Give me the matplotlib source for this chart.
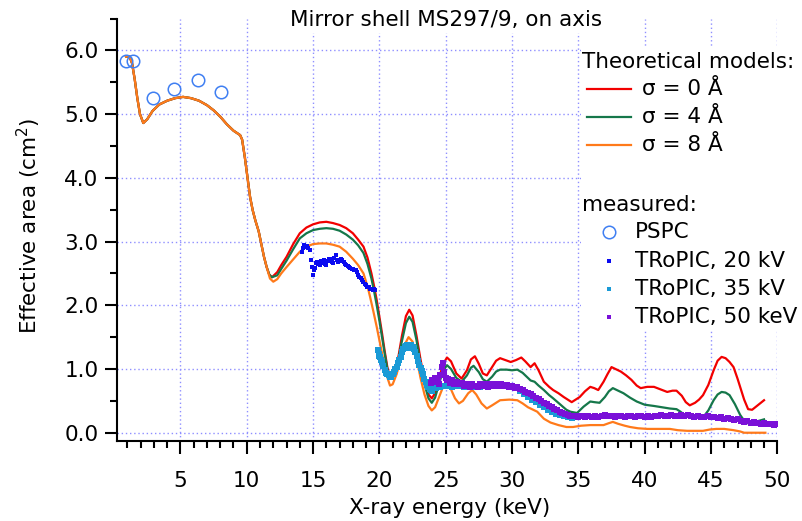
import numpy as np
import matplotlib
matplotlib.use("Agg")
import matplotlib.pyplot as plt
from matplotlib.lines import Line2D
from matplotlib.patches import Rectangle
from matplotlib.ticker import MultipleLocator, FormatStrFormatter

plt.rcParams["font.family"] = ["DejaVu Sans"]

# ---------------------------------------------------------------- data
# Theoretical effective area, common part below ~11.5 keV (all roughness values)
low_energy = [0.9, 1.15, 1.35, 1.55, 1.75, 1.95, 2.2, 2.5, 2.9, 3.4, 4.0, 4.6,
              5.2, 5.8, 6.4, 7.0, 7.5, 8.0, 8.5, 9.0, 9.5, 9.65, 9.85, 10.05,
              10.25, 10.45, 10.65, 10.9, 11.1, 11.3, 11.5]
low_area = [5.90, 5.91, 5.80, 5.55, 5.25, 5.00, 4.86, 4.92, 5.05, 5.15, 5.21,
            5.25, 5.27, 5.25, 5.21, 5.14, 5.06, 4.96, 4.84, 4.74, 4.67, 4.60,
            4.33, 4.01, 3.70, 3.49, 3.33, 3.16, 2.96, 2.76, 2.60]

# sigma = 0 A
s0_energy = [11.7, 11.9, 12.3, 12.6, 13.0, 13.5, 14.0, 14.5, 15.0, 15.5, 16.0,
             16.5, 17.0, 17.5, 18.0, 18.4, 18.8, 19.1, 19.4, 19.6, 19.8, 20.0,
             20.2, 20.4, 20.6, 20.75, 20.9, 21.1, 21.4, 21.7, 22.0, 22.25, 22.5,
             22.8, 23.1, 23.4, 23.7, 23.95, 24.2, 24.5, 24.8, 25.1, 25.4, 25.8,
             26.2, 26.6, 26.9, 27.2, 27.5, 27.8, 28.1, 28.5, 28.8, 29.1, 29.5,
             29.9, 30.3, 30.7, 31.0, 31.4, 31.7, 32.0, 32.4, 32.8, 33.1, 33.5,
             33.9, 34.2, 34.5, 34.8, 35.1, 35.5, 35.9, 36.2, 36.5, 36.9, 37.2,
             37.5, 37.8, 38.2, 38.6, 39.0, 39.4, 39.7, 40.2, 40.7, 41.2, 41.7,
             42.1, 42.4, 42.8, 43.1, 43.4, 43.8, 44.1, 44.4, 44.8, 45.2, 45.5,
             45.8, 46.1, 46.4, 46.7, 47.0, 47.2, 47.5, 47.8, 48.1, 48.4, 48.7,
             49.0]
s0_area = [2.48, 2.44, 2.52, 2.63, 2.76, 2.96, 3.13, 3.22, 3.27, 3.30, 3.31,
           3.29, 3.26, 3.21, 3.13, 3.03, 2.92, 2.75, 2.50, 2.30, 2.08, 1.82,
           1.56, 1.28, 1.03, 0.90, 0.86, 0.92, 1.15, 1.52, 1.83, 1.93, 1.84,
           1.52, 1.15, 0.82, 0.60, 0.54, 0.62, 0.85, 1.08, 1.18, 1.12, 0.93,
           0.85, 0.98, 1.15, 1.20, 1.08, 0.93, 0.90, 1.03, 1.13, 1.17, 1.14,
           1.11, 1.14, 1.18, 1.12, 1.03, 1.09, 0.98, 0.80, 0.72, 0.67, 0.62,
           0.56, 0.52, 0.48, 0.52, 0.56, 0.65, 0.72, 0.70, 0.67, 0.80, 0.92,
           1.03, 1.00, 0.96, 0.90, 0.83, 0.74, 0.70, 0.72, 0.72, 0.68, 0.64,
           0.66, 0.66, 0.58, 0.48, 0.43, 0.47, 0.52, 0.59, 0.75, 0.98, 1.13,
           1.19, 1.17, 1.11, 1.03, 0.85, 0.72, 0.52, 0.37, 0.36, 0.41, 0.46,
           0.51]

# sigma = 4 A
s4_energy = [11.7, 11.9, 12.3, 12.6, 13.0, 13.5, 14.0, 14.5, 15.0, 15.5, 16.0,
             16.5, 17.0, 17.5, 18.0, 18.4, 18.8, 19.1, 19.4, 19.6, 19.8, 20.0,
             20.2, 20.4, 20.6, 20.75, 20.9, 21.1, 21.4, 21.7, 22.0, 22.25, 22.5,
             22.8, 23.1, 23.4, 23.7, 23.95, 24.2, 24.5, 24.8, 25.1, 25.4, 25.8,
             26.2, 26.6, 26.9, 27.1, 27.5, 27.8, 28.1, 28.5, 28.8, 29.1, 29.6,
             30.0, 30.4, 30.8, 31.1, 31.4, 31.7, 32.0, 32.4, 32.8, 33.1, 33.6,
             34.1, 34.4, 34.9, 35.4, 35.9, 36.2, 36.6, 37.0, 37.3, 37.6, 38.0,
             38.4, 38.9, 39.4, 40.0, 40.7, 41.3, 41.9, 42.4, 42.7, 43.0, 43.6,
             44.0, 44.4, 44.8, 45.2, 45.5, 45.8, 46.1, 46.4, 46.8, 47.2, 47.5,
             47.7, 48.0, 48.5, 49.0]
s4_area = [2.48, 2.44, 2.47, 2.57, 2.70, 2.88, 3.05, 3.13, 3.18, 3.20, 3.21,
           3.20, 3.17, 3.11, 3.03, 2.94, 2.82, 2.65, 2.42, 2.22, 2.00, 1.76,
           1.50, 1.24, 1.00, 0.90, 0.87, 0.92, 1.12, 1.44, 1.72, 1.82, 1.74,
           1.45, 1.08, 0.76, 0.54, 0.47, 0.55, 0.77, 0.97, 1.06, 1.00, 0.86,
           0.80, 0.90, 1.02, 1.05, 0.95, 0.84, 0.80, 0.88, 0.96, 0.99, 0.99,
           0.98, 0.99, 0.94, 0.88, 0.82, 0.80, 0.74, 0.67, 0.59, 0.54, 0.45,
           0.36, 0.33, 0.31, 0.41, 0.49, 0.48, 0.47, 0.56, 0.65, 0.70, 0.66,
           0.62, 0.55, 0.49, 0.44, 0.42, 0.40, 0.38, 0.37, 0.33, 0.28, 0.25,
           0.24, 0.24, 0.35, 0.51, 0.60, 0.64, 0.63, 0.59, 0.45, 0.28, 0.19,
           0.15, 0.15, 0.18, 0.21]

# sigma = 8 A
s8_energy = [11.75, 12.0, 12.3, 12.6, 13.0, 13.5, 14.0, 14.5, 15.0, 15.5, 16.0,
             16.5, 17.0, 17.5, 18.0, 18.4, 18.8, 19.1, 19.3, 19.55, 19.8, 20.05,
             20.3, 20.55, 20.8, 21.0, 21.3, 21.6, 21.9, 22.2, 22.5, 22.8, 23.1,
             23.4, 23.7, 23.95, 24.2, 24.5, 24.8, 25.1, 25.4, 25.7, 26.0, 26.3,
             26.7, 27.0, 27.3, 27.7, 28.1, 28.5, 29.1, 29.8, 30.4, 30.8, 31.2,
             31.6, 31.9, 32.4, 32.9, 33.5, 34.1, 34.6, 35.2, 35.9, 36.9, 37.3,
             37.6, 38.0, 38.5, 38.9, 39.5, 40.2, 41.0, 41.9, 42.5, 43.2, 44.4,
             44.9, 45.4, 46.0, 46.7, 47.2, 47.5, 48.3, 49.1]
s8_area = [2.42, 2.37, 2.41, 2.50, 2.60, 2.72, 2.84, 2.92, 2.96, 2.97, 2.97,
           2.95, 2.92, 2.84, 2.73, 2.63, 2.50, 2.30, 2.13, 1.90, 1.66, 1.40,
           1.14, 0.90, 0.74, 0.76, 0.92, 1.15, 1.38, 1.50, 1.43, 1.18, 0.86,
           0.60, 0.42, 0.35, 0.40, 0.56, 0.72, 0.77, 0.68, 0.54, 0.46, 0.50,
           0.62, 0.67, 0.60, 0.46, 0.38, 0.43, 0.51, 0.52, 0.51, 0.46, 0.40,
           0.36, 0.33, 0.22, 0.16, 0.12, 0.09, 0.09, 0.11, 0.12, 0.12, 0.15,
           0.17, 0.14, 0.11, 0.09, 0.07, 0.06, 0.06, 0.06, 0.04, 0.03, 0.03,
           0.05, 0.06, 0.06, 0.04, 0.02, 0.00, 0.00, 0.00]

# PSPC measurements
pspc_energy = [0.9, 1.45, 2.96, 4.52, 6.35, 8.04]
pspc_area = [5.83, 5.83, 5.25, 5.39, 5.53, 5.34]

# TRoPIC, 20 kV tube setting
t20_energy = [14.15, 14.25, 14.35, 14.45, 14.55, 14.65, 14.75, 14.85, 14.92,
              15.0, 15.08, 15.15, 15.22, 15.3, 15.4, 15.5, 15.6, 15.7, 15.8,
              15.9, 16.0, 16.1, 16.2, 16.3, 16.4, 16.5, 16.6, 16.7, 16.8, 16.9,
              17.0, 17.1, 17.2, 17.3, 17.4, 17.5, 17.6, 17.7, 17.8, 17.9, 18.0,
              18.1, 18.2, 18.3, 18.4, 18.5, 18.6, 18.7, 18.8, 18.9, 19.0, 19.1,
              19.2, 19.3, 19.4, 19.5, 19.6, 19.7]
t20_area = [2.84, 2.90, 2.94, 2.92, 2.93, 2.90, 2.86, 2.71, 2.60, 2.47, 2.55,
            2.58, 2.66, 2.68, 2.64, 2.63, 2.70, 2.66, 2.71, 2.65, 2.63, 2.69,
            2.72, 2.73, 2.68, 2.66, 2.74, 2.79, 2.71, 2.68, 2.70, 2.72, 2.71,
            2.68, 2.65, 2.63, 2.61, 2.60, 2.58, 2.57, 2.57, 2.55, 2.55, 2.52,
            2.47, 2.45, 2.43, 2.40, 2.37, 2.34, 2.32, 2.29, 2.28, 2.26, 2.25,
            2.24, 2.25, 2.24]

# TRoPIC, 35 kV tube setting
t35_energy = [19.9, 19.95, 20.0, 20.05, 20.1, 20.2, 20.3, 20.4, 20.5, 20.6,
              20.7, 20.8, 20.9, 21.0, 21.1, 21.2, 21.3, 21.4, 21.5, 21.6, 21.7,
              21.8, 21.9, 22.0, 22.1, 22.2, 22.3, 22.4, 22.5, 22.6, 22.7, 22.8,
              22.9, 23.0, 23.1, 23.2, 23.3, 23.4, 23.5, 23.6, 23.7, 23.8, 23.9,
              24.0, 24.3, 24.6, 24.9, 25.2, 25.5, 25.8, 26.1, 26.4, 26.7, 27.0,
              27.3, 27.6, 27.9, 28.2, 28.5, 28.8, 29.1, 29.4, 29.7, 30.0, 30.3,
              30.6, 30.9, 31.2, 31.5, 31.8, 32.1, 32.4, 32.7, 33.0, 33.3, 33.6,
              33.9, 34.2, 34.5]
t35_area = [1.30, 1.24, 1.20, 1.19, 1.14, 1.11, 1.04, 0.98, 0.94, 0.92, 0.90,
            0.87, 0.88, 0.92, 0.96, 1.00, 1.03, 1.09, 1.14, 1.19, 1.26, 1.32,
            1.34, 1.36, 1.37, 1.33, 1.36, 1.38, 1.35, 1.31, 1.27, 1.20, 1.13,
            1.07, 1.02, 0.97, 0.92, 0.85, 0.80, 0.75, 0.71, 0.68, 0.67, 0.66,
            0.70, 0.72, 0.74, 0.73, 0.72, 0.73, 0.74, 0.72, 0.73, 0.74, 0.72,
            0.71, 0.73, 0.74, 0.75, 0.74, 0.75, 0.75, 0.74, 0.74, 0.71, 0.66,
            0.61, 0.56, 0.52, 0.48, 0.44, 0.40, 0.36, 0.33, 0.30, 0.28, 0.27,
            0.25, 0.23]

# TRoPIC, 50 keV tube setting
t50_energy = [23.9, 24.0, 24.1, 24.2, 24.3, 24.4, 24.5, 24.6, 24.7, 24.8, 24.9,
              25.0, 25.1, 25.2, 25.35, 25.5, 25.65, 25.8, 26.0, 26.2, 26.4,
              26.6, 26.8, 27.0, 27.2, 27.4, 27.6, 27.8, 28.0, 28.2, 28.4, 28.6,
              28.8, 29.0, 29.2, 29.4, 29.6, 29.8, 30.0, 30.2, 30.4, 30.6, 30.8,
              31.0, 31.2, 31.4, 31.6, 31.8, 32.0, 32.2, 32.4, 32.6, 32.8, 33.0,
              33.2, 33.4, 33.6, 33.8, 34.0, 34.2, 34.4, 34.6, 34.8, 35.0, 35.25,
              35.5, 35.75, 36.0, 36.25, 36.5, 36.75, 37.0, 37.25, 37.5, 37.75,
              38.0, 38.25, 38.5, 38.75, 39.0, 39.25, 39.5, 39.75, 40.0, 40.25,
              40.5, 40.75, 41.0, 41.25, 41.5, 41.75, 42.0, 42.25, 42.5, 42.75,
              43.0, 43.25, 43.5, 43.75, 44.0, 44.25, 44.5, 44.75, 45.0, 45.25,
              45.5, 45.75, 46.0, 46.25, 46.5, 46.75, 47.0, 47.25, 47.5, 47.75,
              48.0, 48.25, 48.5, 48.75, 49.0, 49.25, 49.5, 49.75, 50.0]
t50_area = [0.78, 0.83, 0.80, 0.86, 0.79, 0.84, 0.77, 0.90, 1.03, 1.10, 0.95,
            0.86, 0.82, 0.84, 0.78, 0.82, 0.76, 0.79, 0.76, 0.78, 0.74, 0.77,
            0.72, 0.76, 0.74, 0.72, 0.76, 0.73, 0.76, 0.72, 0.76, 0.74, 0.77,
            0.74, 0.76, 0.73, 0.75, 0.71, 0.73, 0.70, 0.71, 0.68, 0.67, 0.64,
            0.63, 0.60, 0.58, 0.55, 0.53, 0.50, 0.47, 0.45, 0.42, 0.40, 0.37,
            0.35, 0.33, 0.31, 0.30, 0.28, 0.27, 0.26, 0.27, 0.25, 0.26, 0.24,
            0.26, 0.24, 0.27, 0.25, 0.26, 0.28, 0.26, 0.27, 0.25, 0.27, 0.26,
            0.25, 0.27, 0.26, 0.25, 0.27, 0.26, 0.25, 0.26, 0.24, 0.27, 0.26,
            0.28, 0.26, 0.27, 0.28, 0.26, 0.27, 0.28, 0.26, 0.28, 0.26, 0.25,
            0.26, 0.24, 0.25, 0.26, 0.24, 0.25, 0.23, 0.24, 0.22, 0.23, 0.21,
            0.20, 0.21, 0.18, 0.17, 0.19, 0.15, 0.17, 0.15, 0.13, 0.16, 0.13,
            0.14, 0.12, 0.13]

x_ticks = [5, 10, 15, 20, 25, 30, 35, 40, 45, 50]
y_ticks = [0.0, 1.0, 2.0, 3.0, 4.0, 5.0, 6.0]

# ---------------------------------------------------------------- styles
C_RED = "#f20000"
C_GREEN = "#15774a"
C_ORANGE = "#ff7a1a"
C_PSPC = "#3f7ff2"
C_T20 = "#0a0af0"
C_T35 = "#1a9ad6"
C_T50 = "#7a10d8"
GRID = "#8f8fff"
FS = 15.5

W, H = 803, 521
fig = plt.figure(figsize=(W / 100, H / 100), dpi=100)


def fx(px):
    return px / W


def fy(py):
    return 1 - py / H


ax_left, ax_right, ax_top, ax_bottom = 117.3, 777.3, 18.5, 440.7
ax = fig.add_axes([fx(ax_left), fy(ax_bottom),
                   (ax_right - ax_left) / W, (ax_bottom - ax_top) / H])

# model curves
model_lw = 1.6
ax.plot(low_energy + s0_energy, low_area + s0_area, color=C_RED, lw=model_lw, zorder=2)
ax.plot(low_energy + s4_energy, low_area + s4_area, color=C_GREEN, lw=model_lw, zorder=3)
ax.plot(low_energy + s8_energy, low_area + s8_area, color=C_ORANGE, lw=model_lw, zorder=4)

# measurements
ax.plot(t20_energy, t20_area, ls="none", marker="s", ms=3.3, color=C_T20, mew=0, zorder=6)
ax.plot(t35_energy, t35_area, ls="none", marker="s", ms=3.8, color=C_T35, mew=0, zorder=6)
ax.plot(t50_energy, t50_area, ls="none", marker="s", ms=4.4, color=C_T50, mew=0, zorder=7)
ax.plot(pspc_energy, pspc_area, ls="none", marker="o", ms=9, mfc="none",
        mec=C_PSPC, mew=1.1, zorder=8)

# axes, ticks, grid
ax.set_xlim(0.24, 50)
ax.set_ylim(-0.125, 6.5)
ax.set_xticks(x_ticks)
ax.set_yticks(y_ticks)
ax.xaxis.set_minor_locator(MultipleLocator(1))
ax.yaxis.set_minor_locator(MultipleLocator(0.5))
ax.yaxis.set_major_formatter(FormatStrFormatter("%.1f"))
ax.tick_params(which="major", direction="out", length=9, width=1.5, labelsize=FS)
ax.tick_params(which="minor", direction="out", length=5, width=1.5)
ax.tick_params(axis="x", which="major", pad=13)
ax.tick_params(axis="y", which="major", pad=4.5)
for side in ("top", "right"):
    ax.spines[side].set_visible(False)
for side in ("left", "bottom"):
    ax.spines[side].set_linewidth(1.5)
ax.set_axisbelow(True)
ax.grid(True, which="major", color=GRID, linestyle=(0, (1, 2)), lw=1.0)

# axis titles
fig.text(fx(450), fy(508), "X-ray energy (keV)", ha="center", va="center", fontsize=FS)
fig.text(fx(29), fy(226), "Effective area (cm$^{2}$)", ha="center", va="center",
         rotation=90, fontsize=FS)
fig.text(fx(446), fy(20), "Mirror shell MS297/9, on axis", ha="center", va="center",
         fontsize=FS, bbox=dict(facecolor="white", edgecolor="none", pad=2.5))

# key
fig.add_artist(Rectangle((fx(581), fy(330)), (W - 581) / W, (330 - 46) / H,
                         transform=fig.transFigure, facecolor="white",
                         edgecolor="none", zorder=1))
fig.text(fx(582), fy(62), "Theoretical models:", ha="left", va="center", fontsize=FS)
for yy, col, lab in [(89, C_RED, "\u03c3 = 0 \u00c5"),
                     (117, C_GREEN, "\u03c3 = 4 \u00c5"),
                     (145, C_ORANGE, "\u03c3 = 8 \u00c5")]:
    fig.add_artist(Line2D([fx(587), fx(631)], [fy(yy), fy(yy)], color=col,
                          lw=model_lw, transform=fig.transFigure))
    fig.text(fx(642), fy(yy), lab, ha="left", va="center", fontsize=FS)

fig.text(fx(582), fy(205), "measured:", ha="left", va="center", fontsize=FS)
key_items = [(232, dict(marker="o", ms=9, mfc="none", mec=C_PSPC, mew=1.1), "PSPC"),
             (261, dict(marker="s", ms=2.6, color=C_T20, mew=0), "TRoPIC, 20 kV"),
             (289, dict(marker="s", ms=2.6, color=C_T35, mew=0), "TRoPIC, 35 kV"),
             (317, dict(marker="s", ms=2.6, color=C_T50, mew=0), "TRoPIC, 50 keV")]
for yy, style, lab in key_items:
    fig.add_artist(Line2D([fx(609)], [fy(yy)], ls="none", transform=fig.transFigure,
                          **style))
    fig.text(fx(635), fy(yy), lab, ha="left", va="center", fontsize=FS)

fig.savefig("out.png", dpi=100, facecolor="white")
